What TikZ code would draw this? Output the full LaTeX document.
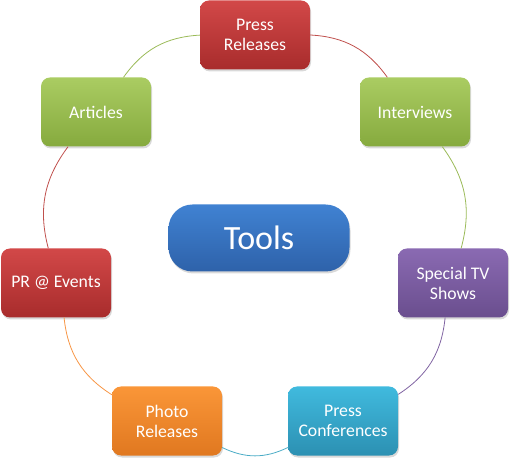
\documentclass[tikz,border=0pt]{standalone}
\usepackage{fontspec}
\setmainfont{Carlito}
\usetikzlibrary{shapes,arrows,positioning,shadows}
\definecolor{redtop}{RGB}{210,72,72}
\definecolor{redbot}{RGB}{168,44,44}
\definecolor{greentop}{RGB}{170,204,98}
\definecolor{greenbot}{RGB}{134,170,62}
\definecolor{purpletop}{RGB}{138,106,178}
\definecolor{purplebot}{RGB}{106,78,142}
\definecolor{tealtop}{RGB}{64,186,222}
\definecolor{tealbot}{RGB}{44,144,178}
\definecolor{orangetop}{RGB}{250,150,56}
\definecolor{orangebot}{RGB}{224,120,32}
\definecolor{bluetop}{RGB}{64,130,210}
\definecolor{bluebot}{RGB}{46,98,170}
\definecolor{redline}{RGB}{192,80,77}
\definecolor{greenline}{RGB}{155,187,89}
\definecolor{purpleline}{RGB}{128,100,162}
\definecolor{tealline}{RGB}{75,172,198}
\definecolor{orangeline}{RGB}{247,150,70}
\tikzstyle{tool} = [rectangle,rounded corners=9pt,minimum width=110pt,minimum height=69pt,inner sep=0,align=center,text=white,font=\fontsize{17.7}{20}\selectfont,drop shadow={opacity=0.3,shadow xshift=1pt,shadow yshift=-2pt}]
\tikzstyle{hub} = [rectangle,rounded corners=24pt,minimum width=181pt,minimum height=67pt,inner sep=0,text=white,font=\fontsize{34}{40}\selectfont,top color=bluetop,bottom color=bluebot,drop shadow={opacity=0.3,shadow xshift=1pt,shadow yshift=-2pt}]
\tikzstyle{ring} = [-,line width=0.8pt]
\def \bend {25.7}

\begin{document}
\begin{tikzpicture}[x=1pt,y=1pt]
      \useasboundingbox (0,0) rectangle (510,462);
      \node[tool,top color=redtop,bottom color=redbot] (press) at (255,427) {Press\\Releases};
      \node[tool,top color=greentop,bottom color=greenbot] (interviews) at (415,350) {Interviews};
      \node[tool,top color=purpletop,bottom color=purplebot] (special) at (453,179) {Special TV\\Shows};
      \node[tool,top color=tealtop,bottom color=tealbot] (conf) at (343,41) {Press\\Conferences};
      \node[tool,top color=orangetop,bottom color=orangebot] (photo) at (167,41) {Photo\\Releases};
      \node[tool,top color=redtop,bottom color=redbot] (events) at (56,179) {PR @ Events};
      \node[tool,top color=greentop,bottom color=greenbot] (articles) at (96,350) {Articles};
      \node[hub] (tools) at (259,224) {Tools};
      \draw[ring,redline] (press) to[bend left=\bend] (interviews);
      \draw[ring,greenline] (interviews) to[bend left=\bend] (special);
      \draw[ring,purpleline] (special) to[bend left=\bend] (conf);
      \draw[ring,tealline] (conf) to[bend left=\bend] (photo);
      \draw[ring,orangeline] (photo) to[bend left=\bend] (events);
      \draw[ring,redline] (events) to[bend left=\bend] (articles);
      \draw[ring,greenline] (articles) to[bend left=\bend] (press);
    \end{tikzpicture}
\end{document}
